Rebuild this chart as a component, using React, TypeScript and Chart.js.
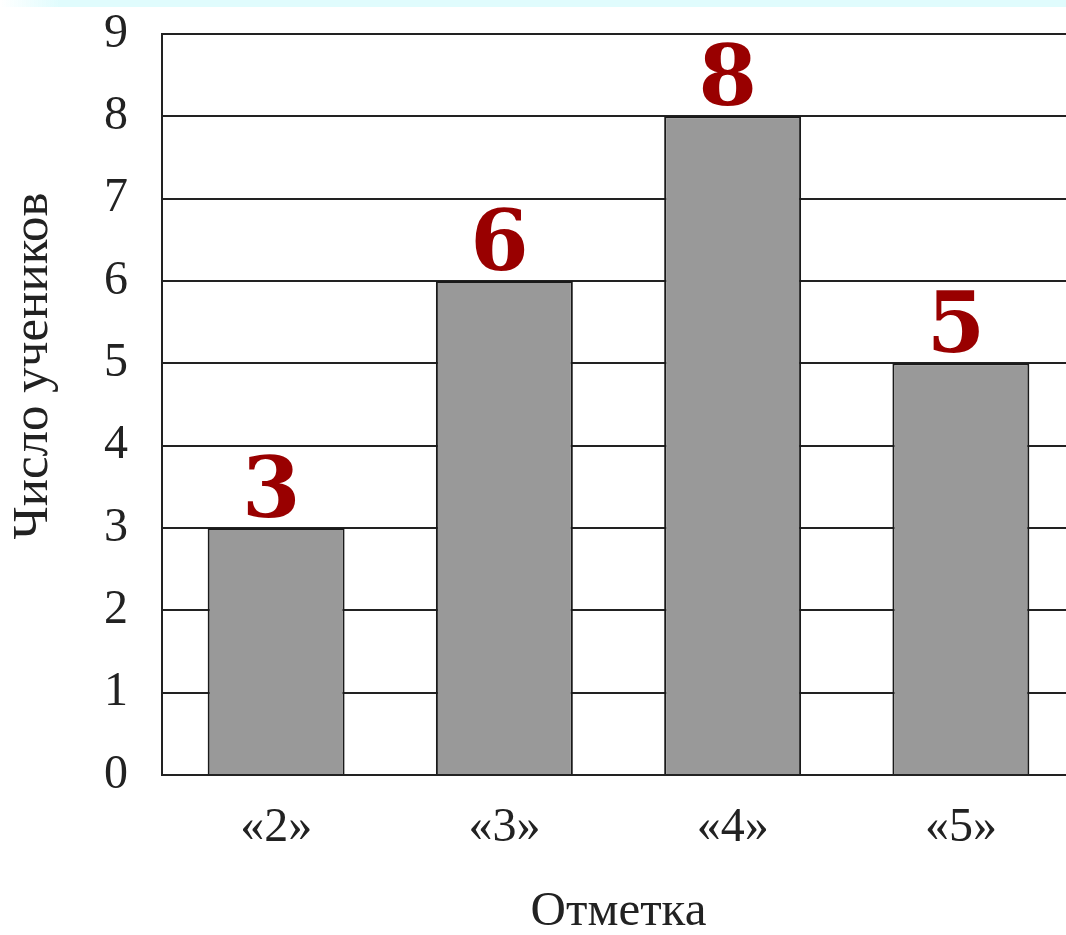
import React, { useEffect, useRef } from "react";
import { Chart, registerables } from "chart.js";

Chart.register(...registerables);

const categories = ["«2»", "«3»", "«4»", "«5»"];
const studentCounts = [3, 6, 8, 5];
const yTicks = [0, 1, 2, 3, 4, 5, 6, 7, 8, 9];
const xTitle = "Отметка";
const yTitle = "Число учеников";

const SERIF = '"Liberation Serif", "Times New Roman", serif';
const TEXT_COLOR = "#222222";
const LINE_COLOR = "#222222";

const valueLabels = {
  id: "valueLabels",
  afterDatasetsDraw(chart: any) {
    const ctx = chart.ctx;
    const meta = chart.getDatasetMeta(0);
    ctx.save();
    ctx.font = 'bold 84px "DejaVu Serif", serif';
    ctx.fillStyle = "#990000";
    ctx.textAlign = "center";
    ctx.textBaseline = "alphabetic";
    meta.data.forEach((bar: any, i: number) => {
      ctx.fillText(String(studentCounts[i]), bar.x - 5, bar.y - 11);
    });
    ctx.restore();
  },
};

const yAxisTitle = {
  id: "yAxisTitle",
  afterDraw(chart: any) {
    const ctx = chart.ctx;
    ctx.save();
    ctx.translate(34, 366);
    ctx.rotate(-Math.PI / 2);
    ctx.font = "51px " + SERIF;
    ctx.fillStyle = TEXT_COLOR;
    ctx.textAlign = "center";
    ctx.textBaseline = "middle";
    ctx.fillText(yTitle, 0, 0);
    ctx.restore();
  },
};

export default function App() {
  const canvasRef = useRef<HTMLCanvasElement | null>(null);

  useEffect(() => {
    if (!canvasRef.current) return;
    const chart = new Chart(canvasRef.current, {
      type: "bar",
      data: {
        labels: categories,
        datasets: [
          {
            data: studentCounts,
            backgroundColor: "#999999",
            borderColor: "#1a1a1a",
            borderWidth: 2,
            barPercentage: 0.6,
            categoryPercentage: 1,
          },
        ],
      },
      options: {
        responsive: false,
        animation: false,
        devicePixelRatio: 1,
        layout: { padding: { top: 34, right: 15, left: 0, bottom: 0 } },
        plugins: {
          legend: { display: false },
          tooltip: { enabled: false },
        },
        scales: {
          x: {
            grid: { display: false, drawTicks: false },
            border: { display: false },
            ticks: {
              color: TEXT_COLOR,
              font: { family: SERIF, size: 48 },
              padding: 25,
              maxRotation: 0,
            },
            title: {
              display: true,
              text: xTitle,
              color: TEXT_COLOR,
              font: { family: SERIF, size: 49 },
              padding: { top: 0, bottom: 8 },
            },
            afterFit(scale: any) {
              scale.height = 175;
              scale.paddingLeft = 0;
              scale.paddingRight = 0;
            },
          },
          y: {
            min: 0,
            max: 9,
            afterBuildTicks(scale: any) {
              scale.ticks = yTicks.map((v) => ({ value: v }));
            },
            grid: {
              color: LINE_COLOR,
              lineWidth: 2,
              drawTicks: false,
            },
            border: { display: true, color: LINE_COLOR, width: 2 },
            ticks: {
              color: TEXT_COLOR,
              font: { family: SERIF, size: 48 },
              padding: 34,
            },
            afterFit(scale: any) {
              scale.width = 162;
              scale.paddingTop = 0;
              scale.paddingBottom = 0;
            },
          },
        },
      },
      plugins: [valueLabels, yAxisTitle],
    });
    return () => chart.destroy();
  }, []);

  return (
    <div
      style={{
        position: "absolute",
        left: 0,
        top: 0,
        width: 1066,
        height: 935,
        overflow: "hidden",
        background: "#ffffff",
      }}
    >
      <canvas
        ref={canvasRef}
        width={1090}
        height={950}
        style={{ display: "block", width: 1090, height: 950 }}
      />
      <div
        style={{
          position: "absolute",
          left: 0,
          top: 0,
          width: 1066,
          height: 7,
          background:
            "linear-gradient(to right, rgba(224,252,253,0) 0px, rgba(224,252,253,1) 60px, rgba(224,252,253,1) 100%)",
        }}
      />
    </div>
  );
}
